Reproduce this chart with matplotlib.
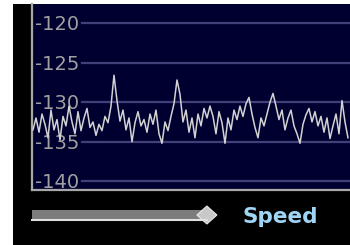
import matplotlib.pyplot as plt
from matplotlib.patches import Rectangle, Polygon
import numpy as np

# level readings in dB, one every few px across the trace
levels = [-133.5, -132.0, -133.8, -131.5, -132.8, -134.5, -131.0, -133.5, -132.2, -134.8,
          -131.8, -133.0, -130.5, -132.5, -134.0, -131.2, -133.6, -132.0, -130.8, -133.2,
          -132.5, -134.2, -132.8, -133.6, -131.8, -132.6, -130.5, -126.6, -129.8, -132.4,
          -131.0, -133.5, -132.0, -135.0, -132.6, -131.2, -133.0, -132.2, -133.8, -131.5,
          -132.8, -131.0, -134.0, -135.2, -132.5, -133.6, -131.8, -130.2, -127.2, -129.0,
          -132.5, -131.0, -133.8, -132.0, -134.5, -131.5, -133.0, -130.8, -132.0, -130.5,
          -131.8, -134.0, -131.2, -132.6, -135.2, -132.0, -133.5, -131.0, -132.2, -130.5,
          -131.8, -130.2, -129.4, -131.5, -133.2, -134.5, -132.0, -133.0, -131.5, -130.0,
          -128.9, -130.5, -132.2, -131.0, -133.5, -132.0, -131.0, -133.0, -134.0, -135.2,
          -132.8, -131.6, -130.8, -132.5, -131.2, -133.0, -131.8, -133.8, -132.0, -134.6,
          -133.0, -131.5, -134.0, -129.8, -132.5, -134.5]
grid_levels = [-120, -125, -130, -135, -140]
grid_labels = ['-120', '-125', '-130', '-135', '-140']
slider_pos = 0.55
slider_label = 'Speed'

W, H = 350, 245
fig = plt.figure(figsize=(W / 100, H / 100), dpi=100)
fig.patch.set_facecolor('white')

# pixel-space overlay for the black frame and the slider
bg = fig.add_axes([0, 0, 1, 1], zorder=0)
bg.set_xlim(0, W)
bg.set_ylim(H, 0)
bg.axis('off')
bg.add_patch(Rectangle((13, 4), W - 13, H - 4, facecolor='black', edgecolor='none'))

ax = fig.add_axes([32 / W, (H - 190) / H, (W - 32) / W, 186 / H], zorder=1)
ax.set_facecolor('#000030')
x = np.arange(len(levels))
ax.set_xlim(-0.33, len(levels) - 0.33)
ax.set_ylim(-141.1, -117.6)
for g, lab in zip(grid_levels, grid_labels):
    ax.axhline(g, xmin=50 / 318, color='#40407a', lw=1.6, zorder=1)
    ax.text(3 / 318, g - 0.2, lab, transform=ax.get_yaxis_transform(), color='#a0a0a0',
            fontsize=14, va='center', ha='left', zorder=2)
ax.plot(x, levels, color='#d2d2d2', lw=1.1, zorder=3)
for side in ['top', 'right']:
    ax.spines[side].set_visible(False)
ax.spines['left'].set_color('#a8a8a8')
ax.spines['bottom'].set_color('#a8a8a8')
ax.spines['left'].set_linewidth(1.6)
ax.spines['bottom'].set_linewidth(1.6)
ax.set_xticks([])
ax.set_yticks([])

# slider
knob_x = 32 + slider_pos * 318
bg.add_patch(Rectangle((32, 210), knob_x - 32, 9, facecolor='#7c7c7c', edgecolor='none'))
bg.plot([32, knob_x], [220, 220], color='#e0e0e0', lw=1.5)
bg.add_patch(Polygon([[knob_x - 10, 215], [knob_x, 206], [knob_x + 10, 215], [knob_x, 224]],
                     closed=True, facecolor='#c8c8c8', edgecolor='#e8e8e8', lw=0.8))
bg.text(243, 217, slider_label, color='#9fd4f4', fontsize=15.5, fontweight='bold',
        va='center', ha='left')

fig.savefig('out.png', dpi=100, facecolor=fig.get_facecolor())
